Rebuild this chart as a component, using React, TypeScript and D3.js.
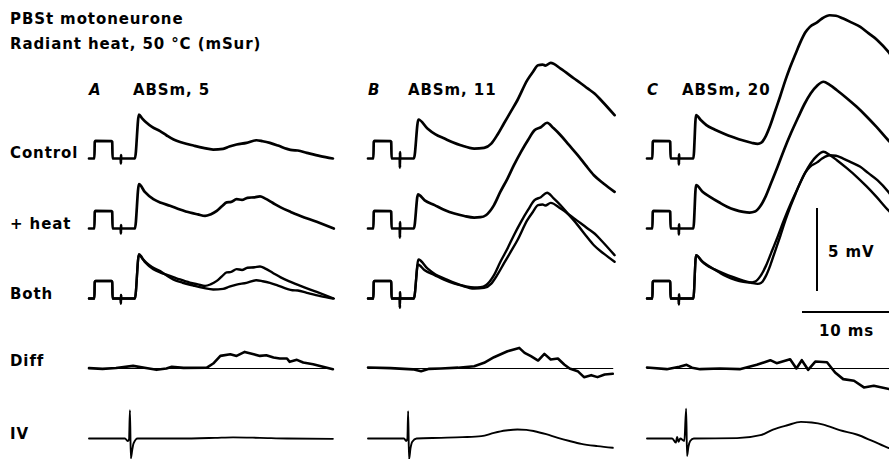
import React from 'react';
import * as d3 from 'd3';

type Pt = [number, number];

// ---- Layout labels ----
const titleLines = ['PBSt motoneurone', 'Radiant heat, 50 °C (mSur)'];
const panels = ['A', 'B', 'C'];
const panelTitles = ['ABSm, 5', 'ABSm, 11', 'ABSm, 20'];
const rowLabels = ['Control', '+ heat', 'Both', 'Diff', 'IV'];
const scaleBarValues = { mV: 5, ms: 10 };

// ---- Shared test pulse (ms, mV) before the stimulus ----
const testPulse: Pt[] = [
  [0, 0], [0.6, 0], [0.64, 1.0], [0.72, 1.06], [2.5, 1.05], [2.58, 1.0], [2.62, 0], [3.5, 0],
];
// stimulus artefact amplitude per panel (mV)
const stimArtifact = [0.3, 0.55, 0.35];

// ---- Post-stimulus PSPs (ms, mV) ----
const controlA: Pt[] = [
  [5.1, 0], [5.55, 2.65], [5.9, 2.42], [6.4, 2.15], [7.0, 1.9], [7.9, 1.65], [8.6, 1.4], [9.4, 1.14],
  [10.4, 0.95], [11.6, 0.78], [12.7, 0.64], [13.8, 0.54], [14.9, 0.58], [15.6, 0.72], [16.4, 0.84],
  [17.5, 0.94], [18.6, 1.1], [19.3, 1.04], [20.1, 0.94], [21.0, 0.78], [22.0, 0.58], [22.6, 0.5],
  [23.2, 0.48], [24.2, 0.34], [25.7, 0.14], [27.1, 0],
];
const heatA: Pt[] = [
  [5.1, 0], [5.55, 2.67], [6.2, 2.2], [7.15, 1.77], [8.0, 1.55], [9.0, 1.37], [10.1, 1.15],
  [11.2, 0.96], [12.1, 0.85], [12.9, 0.76], [13.5, 0.85], [14.2, 1.06], [14.8, 1.35], [15.3, 1.57],
  [15.8, 1.6], [16.4, 1.77], [17.0, 1.72], [17.6, 1.85], [18.4, 1.88], [19.0, 1.93], [19.6, 1.8],
  [20.4, 1.55], [21.3, 1.27], [22.4, 1.0], [23.5, 0.76], [25.3, 0.4], [27.2, 0],
];
const controlB: Pt[] = [
  [5.1, 0], [5.6, 2.35], [6.6, 1.81], [7.5, 1.45], [8.5, 1.2], [9.4, 0.98], [10.3, 0.8], [11.8, 0.6],
  [12.9, 0.64], [13.7, 0.9], [14.4, 1.45], [15.1, 2.11], [15.9, 2.85], [16.6, 3.51], [17.7, 4.72],
  [18.3, 5.2], [18.9, 5.62], [19.4, 5.66], [19.7, 5.6], [20.3, 5.76], [21.4, 5.42], [22.9, 4.82],
  [23.6, 4.55], [24.4, 4.22], [25.2, 3.9], [25.9, 3.51], [27.4, 2.61],
];
const heatB: Pt[] = [
  [5.1, 0], [5.55, 2.05], [6.3, 1.7], [7.4, 1.41], [8.5, 1.12], [9.6, 0.9], [10.7, 0.75], [11.8, 0.66],
  [12.5, 0.68], [13.1, 0.8], [14.0, 1.41], [14.7, 2.2], [15.5, 3.01], [16.2, 3.8], [17.0, 4.62],
  [17.8, 5.35], [18.5, 5.92], [19.2, 6.1], [19.9, 6.37], [20.6, 6.05], [21.4, 5.62], [22.3, 5.05],
  [23.3, 4.42], [24.2, 3.8], [25.1, 3.21], [26.2, 2.7], [27.4, 2.21],
];
const controlC: Pt[] = [
  [5.15, 0], [5.45, 2.61], [6.0, 2.3], [6.6, 2.01], [7.5, 1.75], [8.5, 1.51], [9.6, 1.28], [10.7, 1.08],
  [11.6, 0.95], [12.3, 0.88], [12.7, 0.95], [13.2, 1.35], [13.7, 2.0], [14.2, 2.8], [14.8, 3.75],
  [15.4, 4.75], [15.9, 5.5], [16.5, 6.3], [17.0, 6.95], [17.6, 7.6], [18.1, 7.93], [18.9, 8.2],
  [19.5, 8.45], [20.3, 8.63], [21.0, 8.6], [21.8, 8.43], [22.7, 8.2], [23.7, 7.93], [24.6, 7.55],
  [25.6, 7.13], [26.8, 6.43], [27.4, 6.0],
];
const heatC: Pt[] = [
  [5.15, 0], [5.45, 2.61], [6.2, 2.2], [7.0, 1.91], [8.0, 1.58], [8.9, 1.31], [9.8, 1.12], [10.7, 1.0],
  [11.4, 0.96], [12.0, 1.02], [12.6, 1.35], [13.2, 1.95], [13.8, 2.75], [14.5, 3.7], [15.2, 4.7],
  [16.0, 5.75], [16.8, 6.7], [17.5, 7.5], [18.2, 8.15], [18.9, 8.6], [19.6, 8.84], [20.3, 8.65],
  [21.1, 8.33], [22.2, 7.85], [23.3, 7.33], [24.4, 6.75], [25.5, 6.12], [26.8, 5.32], [27.4, 5.0],
];

// ---- Difference traces (heat - control) ----
const diffA: Pt[] = [
  [0, 0.02], [1.5, -0.02], [3.0, 0.03], [4.9, 0.16], [6.5, 0.02], [7.5, -0.08], [8.6, 0.0], [9.2, 0.1],
  [10.5, 0.04], [13.1, 0.05], [13.8, 0.3], [14.6, 0.76], [15.7, 0.86], [16.4, 0.76], [17.3, 1.0],
  [18.3, 0.86], [19.0, 0.76], [19.7, 0.8], [20.5, 0.66], [21.2, 0.6], [22.0, 0.6], [22.3, 0.4],
  [23.1, 0.52], [23.8, 0.36], [24.9, 0.26], [27.1, -0.04],
];
const diffB: Pt[] = [
  [0, 0.06], [2.5, 0.02], [5.0, -0.05], [5.9, -0.16], [6.8, -0.02], [8.1, 0], [10.0, 0.05],
  [11.8, 0.14], [12.9, 0.34], [14.0, 0.68], [15.5, 1.04], [16.8, 1.24], [17.4, 0.94], [18.1, 0.74],
  [18.9, 0.48], [19.6, 0.88], [20.3, 0.54], [21.1, 0.6], [21.8, 0.24], [22.4, 0], [23.3, -0.16],
  [24.0, -0.52], [24.8, -0.4], [25.5, -0.52], [26.3, -0.36], [27.2, -0.32],
];
const diffC: Pt[] = [
  [0, 0.06], [2.2, -0.04], [3.6, 0.1], [4.4, 0.22], [5.0, 0.05], [5.9, -0.04], [8.1, 0], [10.3, -0.04],
  [12.2, 0.22], [13.7, 0.5], [14.4, 0.32], [15.9, 0.56], [16.6, 0.0], [17.2, 0.5], [17.9, -0.08],
  [18.7, 0.42], [20.0, 0.38], [20.9, -0.24], [21.8, -0.64], [23.0, -0.74], [24.1, -1.14],
  [25.2, -1.04], [26.9, -1.24], [27.4, -1.2],
];

// ---- Incoming volley (IV) ----
const ivA: Pt[] = [
  [0, 0], [4.0, 0], [4.3, -0.15], [4.45, -0.05], [4.55, 1.7], [4.65, -1.2], [4.8, -0.7], [4.95, -0.3],
  [5.4, 0], [10, 0.0], [14, 0.04], [16, 0.07], [19, 0.04], [22, 0.0], [27.1, -0.02],
];
const ivB: Pt[] = [
  [0, 0], [4.0, 0], [4.25, -0.15], [4.38, 0], [4.46, 1.65], [4.56, -1.25], [4.72, -0.6], [4.92, -0.2],
  [5.4, 0], [8.1, 0.04], [10.5, 0.08], [12.6, 0.14], [14.0, 0.34], [15.3, 0.48], [16.6, 0.54],
  [17.6, 0.52], [18.5, 0.44], [19.8, 0.26], [21.1, 0.04], [22.4, -0.15], [23.7, -0.32],
  [25.5, -0.46], [27.2, -0.56],
];
const ivC: Pt[] = [
  [0, 0], [2.8, 0], [3.2, -0.25], [3.35, 0.1], [3.5, -0.2], [3.7, 0], [4.15, -0.15], [4.35, 1.8],
  [4.45, -1.05], [4.6, -0.5], [4.8, -0.15], [5.2, 0], [10, 0.02], [12.6, 0.2], [14.0, 0.54],
  [15.6, 0.8], [17.1, 1.0], [18.3, 0.96], [19.6, 0.84], [21.4, 0.5], [23.3, 0.24], [25.1, -0.16],
  [26.8, -0.56], [27.4, -0.66],
];

const controls = [controlA, controlB, controlC];
const heats = [heatA, heatB, heatC];
const diffs = [diffA, diffB, diffC];
const ivs = [ivA, ivB, ivC];

const W = 889;
const H = 459;
const FONT = "'DejaVu Sans', sans-serif";

function withPulse(post: Pt[], art: number): Pt[] {
  const stim: Pt[] = [[3.53, 0], [3.545, -art], [3.56, art * 0.7], [3.575, 0]];
  return [...testPulse, ...stim, ...post];
}

export default function App() {
  const panelX = d3.scalePoint<string>().domain(panels).range([89, 647]);
  const rowY = d3.scalePoint<string>().domain(rowLabels).range([158.5, 438.5]);
  const tScale = d3.scaleLinear().domain([0, 10]).range([0, 90]); // 9 px per ms
  const vScale = d3.scaleLinear().domain([0, 5]).range([0, -83]); // 16.6 px per mV

  const mkLine = (x0: number, y0: number, curve: d3.CurveFactory) =>
    d3
      .line<Pt>()
      .x((d) => x0 + tScale(d[0]))
      .y((d) => y0 + vScale(d[1]))
      .curve(curve);

  const traces: { d: string; w: number }[] = [];
  panels.forEach((p, i) => {
    const x0 = panelX(p)!;
    const ctrl = withPulse(controls[i], stimArtifact[i]);
    const heat = withPulse(heats[i], stimArtifact[i]);
    const l1 = mkLine(x0, rowY('Control')!, d3.curveMonotoneX);
    const l2 = mkLine(x0, rowY('+ heat')!, d3.curveMonotoneX);
    const l3 = mkLine(x0, rowY('Both')!, d3.curveMonotoneX);
    const l4 = mkLine(x0, rowY('Diff')!, d3.curveLinear);
    const l5 = mkLine(x0, rowY('IV')!, d3.curveMonotoneX);
    traces.push({ d: l1(ctrl)!, w: 2.7 });
    traces.push({ d: l2(heat)!, w: 2.7 });
    traces.push({ d: l3(ctrl)!, w: 2.4 });
    traces.push({ d: l3(heat)!, w: 2.4 });
    const dd = diffs[i];
    traces.push({ d: l4([[0, 0], [dd[dd.length - 1][0], 0]])!, w: 1.1 });
    traces.push({ d: l4(dd)!, w: 2.6 });
    traces.push({ d: l5(ivs[i])!, w: 1.9 });
  });

  const titleOffsets = [44, 40, 35];
  const rowLabelOffsets = [-0.5, 0.5, 0.5, -2.5, 0.5];

  const vBarX = 817;
  const vBarBottom = 291;
  const hBarY = 312;
  const hBarX = 802;

  const textStyle: React.CSSProperties = {
    fontFamily: FONT,
    fontWeight: 'bold',
    fontSize: 15,
    letterSpacing: 0.9,
  };

  return (
    <svg
      width={W}
      height={H}
      viewBox={`0 0 ${W} ${H}`}
      style={{ position: 'absolute', left: 0, top: 0, background: '#fff' }}
    >
      <rect x={0} y={0} width={W} height={H} fill="#fff" />
      <text x={10} y={24} style={textStyle} fill="#000">{titleLines[0]}</text>
      <text x={10} y={49} style={textStyle} fill="#000">{titleLines[1]}</text>
      {panels.map((p, i) => (
        <g key={p}>
          <text x={panelX(p)!} y={95} style={{ ...textStyle, fontStyle: 'italic' }} fill="#000">{p}</text>
          <text x={panelX(p)! + titleOffsets[i]} y={95} style={textStyle} fill="#000">{panelTitles[i]}</text>
        </g>
      ))}
      {rowLabels.map((r, i) => (
        <text key={r} x={10} y={rowY(r)! + rowLabelOffsets[i]} style={textStyle} fill="#000">{r}</text>
      ))}
      {traces.map((t, i) => (
        <path key={i} d={t.d} fill="none" stroke="#000" strokeWidth={t.w} strokeLinejoin="round" strokeLinecap="round" />
      ))}
      {/* scale bars */}
      <line x1={vBarX} x2={vBarX} y1={vBarBottom} y2={vBarBottom + vScale(scaleBarValues.mV)} stroke="#000" strokeWidth={2} />
      <line x1={hBarX} x2={hBarX + tScale(scaleBarValues.ms)} y1={hBarY} y2={hBarY} stroke="#000" strokeWidth={2} />
      <text x={828} y={257} style={textStyle} fill="#000">{`${scaleBarValues.mV} mV`}</text>
      <text x={819} y={336} style={textStyle} fill="#000">{`${scaleBarValues.ms} ms`}</text>
    </svg>
  );
}
